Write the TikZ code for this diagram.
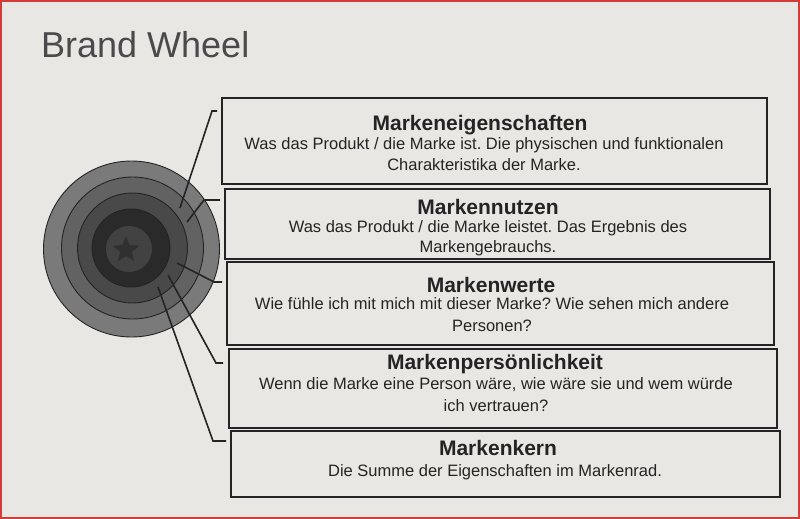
\documentclass[tikz,border=0pt]{standalone}
\usepackage{fontspec}
\setmainfont{Liberation Sans}
\usetikzlibrary{shapes.geometric}
\frenchspacing
\definecolor{paper}{HTML}{E9E7E3}
\definecolor{ink}{HTML}{242424}
\definecolor{titleink}{HTML}{4A4A4A}
\definecolor{ringA}{HTML}{7A7A7A}
\definecolor{ringB}{HTML}{626262}
\definecolor{ringC}{HTML}{494949}
\definecolor{ringD}{HTML}{2A2A2A}
\definecolor{ringE}{HTML}{424242}
\definecolor{starfill}{HTML}{303030}
\definecolor{frame}{HTML}{D43C3C}
\begin{document}
\begin{tikzpicture}[x=1pt,y=-1pt,
  boxstyle/.style={draw=ink, line width=2pt, inner sep=0pt, fill=none},
  head/.style={text=ink, inner sep=0pt, anchor=base, font=\fontsize{21}{24}\selectfont\bfseries},
  body/.style={text=ink, inner sep=0pt, anchor=base, font=\fontsize{16.5}{20}\selectfont},
  conn/.style={draw=ink, line width=1.6pt, line join=miter},
  ring/.style={circle, draw=ink, line width=0.9pt, inner sep=0pt}]
\fill[paper] (0,0) rectangle (800,519);
\useasboundingbox (0,0) rectangle (800,519);
\draw[frame, line width=2pt] (1,1) rectangle (799,518);

% title
\node[text=titleink, inner sep=0pt, anchor=base west, font=\fontsize{36}{40}\selectfont] (title) at (41,57) {Brand Wheel};

% wheel
\node[ring, fill=ringA, minimum size=176pt] (rA) at (131.5,249) {};
\node[ring, fill=ringB, minimum size=142pt] (rB) at (132.5,248) {};
\node[ring, fill=ringC, minimum size=110pt] (rC) at (132.5,248) {};
\node[ring, fill=ringD, minimum size=78pt] (rD) at (131,248) {};
\node[ring, fill=ringE, draw=none, minimum size=46pt] (rE) at (129,249) {};
\node[star, star points=5, star point ratio=2.3, fill=starfill, inner sep=0pt, minimum size=28pt] (st) at (126,250) {};

% boxes
\node[boxstyle, minimum width=545pt, minimum height=86pt] (b1) at (494.5,141) {};
\node[boxstyle, minimum width=545pt, minimum height=70pt] (b2) at (497.5,223.5) {};
\node[boxstyle, minimum width=547pt, minimum height=83pt] (b3) at (500.5,303.5) {};
\node[boxstyle, minimum width=548pt, minimum height=79pt] (b4) at (503,388.5) {};
\node[boxstyle, minimum width=549pt, minimum height=66pt] (b5) at (505.5,464) {};

% texts
\node[head] (t1a) at (480,130) {Markeneigenschaften};
\node[body] (t1b) at (484,149) {Was das Produkt / die Marke ist. Die physischen und funktionalen};
\node[body] (t1c) at (484,170) {Charakteristika der Marke.};

\node[head] (t2a) at (488,214) {Markennutzen};
\node[body] (t2b) at (488,232) {Was das Produkt / die Marke leistet. Das Ergebnis des};
\node[body] (t2c) at (488,252) {Markengebrauchs.};

\node[head] (t3a) at (491,292) {Markenwerte};
\node[body] (t3b) at (492,309) {Wie fühle ich mit mich mit dieser Marke? Wie sehen mich andere};
\node[body] (t3c) at (492,331) {Personen?};

\node[head] (t4a) at (495,369) {Markenpersönlichkeit};
\node[body] (t4b) at (496,389) {Wenn die Marke eine Person wäre, wie wäre sie und wem würde};
\node[body] (t4c) at (496,411) {ich vertrauen?};

\node[head] (t5a) at (498,455) {Markenkern};
\node[body] (t5b) at (495,476) {Die Summe der Eigenschaften im Markenrad.};

% connector coordinates
\coordinate (p1) at (180,208); \coordinate (k1) at (212,111); \coordinate (e1) at (217,111);
\coordinate (p2) at (187,222); \coordinate (k2) at (204,200); \coordinate (e2) at (220,200);
\coordinate (p3) at (177,263); \coordinate (k3) at (214,282); \coordinate (e3) at (222,282);
\coordinate (p4) at (168,275); \coordinate (k4) at (216,363); \coordinate (e4) at (223,363);
\coordinate (p5) at (158,287); \coordinate (k5) at (213,441); \coordinate (e5) at (226,441);

\draw[conn] (p1) -- (k1) -- (e1);
\draw[conn] (p2) -- (k2) -- (e2);
\draw[conn] (p3) -- (k3) -- (e3);
\draw[conn] (p4) -- (k4) -- (e4);
\draw[conn] (p5) -- (k5) -- (e5);
\end{tikzpicture}
\end{document}
